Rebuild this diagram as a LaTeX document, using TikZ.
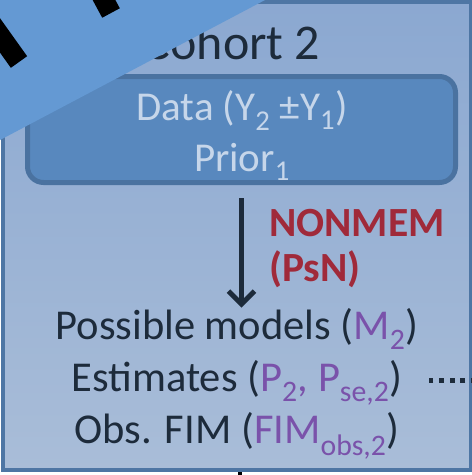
\documentclass[tikz,border=0pt]{standalone}
\usepackage{fontspec}
\setmainfont{Carlito}
\usetikzlibrary{arrows.meta,positioning}

\definecolor{panelline}{HTML}{4E76A4}
\definecolor{paneltop}{HTML}{8BA8D1}
\definecolor{panelbot}{HTML}{A9BDD8}
\definecolor{boxfill}{HTML}{5888BE}
\definecolor{boxline}{HTML}{4A72A0}
\definecolor{boxtext}{HTML}{C6D6EA}
\definecolor{ink}{HTML}{1D2B3B}
\definecolor{tool}{HTML}{A02A3A}
\definecolor{param}{HTML}{7A52AA}
\definecolor{flap}{HTML}{6499D3}

\newcommand{\pv}[1]{\textcolor{param}{#1}}

\begin{document}
\begin{tikzpicture}[x=1pt, y=-1pt,
	panel/.style={draw=panelline, line width=4pt, top color=paneltop,
		bottom color=panelbot, inner sep=0pt},
	inbox/.style={draw=boxline, fill=boxfill, line width=5pt,
		rounded corners=16pt, inner sep=0pt},
	txt/.style={anchor=base, inner sep=0pt, text=ink,
		font=\fontsize{42.5}{50}\selectfont},
	flow/.style={draw=ink, line width=5pt,
		-{Straight Barb[length=13pt, width=26pt, line width=5pt]}},
	dots/.style={draw=ink, line width=5pt, dash pattern=on 5pt off 5.7pt}]
	\useasboundingbox (0,0) rectangle (472,475);
	\clip (0,0) rectangle (472,475);
	% cohort panel
	\node[panel, minimum width=468pt, minimum height=468pt] (panel) at (236.5,236) {};
	\node[txt, font=\fontsize{50}{58}\selectfont] (cohort) at (232,59) {Cohort 2};
	\node[inbox, minimum width=428pt, minimum height=106pt] (databox) at (241.5,129.5) {};
	\node[txt, text=boxtext, font=\fontsize{41}{48}\selectfont] (data) at (242,120)
		{Data (Y\textsubscript{2} ±Y\textsubscript{1})};
	\node[txt, text=boxtext, font=\fontsize{41}{48}\selectfont] (prior) at (242,171)
		{Prior\textsubscript{1}};
	\node[txt, text=tool, anchor=base west, font=\bfseries\fontsize{41.5}{48}\selectfont]
		(nonmem) at (269,236) {NONMEM};
	\node[txt, text=tool, anchor=base west, font=\bfseries\fontsize{41.5}{48}\selectfont]
		(psn) at (269,281) {(PsN)};
	\node[txt] (models) at (237,339) {Possible models (\pv{M\textsubscript{2}})};
	\node[txt] (est) at (237,391) {Estimates (\pv{P\textsubscript{2}, P\textsubscript{se,2}})};
	\node[txt] (fim) at (237,443) {Obs. FIM (\pv{FIM\textsubscript{obs,2}})};
	\draw[flow, shorten <=13pt] (databox.south) -- (databox.south |- models.north);
	% links leaving the panel
	\coordinate (more) at (476,380);
	\coordinate (down) at (240,476);
	\draw[dots, shorten >=27pt] (more) -- (more -| est.east);
	\draw[draw=black, line width=4pt] (down |- panel.south) -- (down);
	% flap over the corner
	\fill[flap] (0,0) -- (265,0) -- (0,140) -- cycle;
	\draw[line width=20pt] (-16,13) -- (19,62);
	\draw[line width=20pt] (97,-13) -- (111,13);
\end{tikzpicture}
\end{document}
